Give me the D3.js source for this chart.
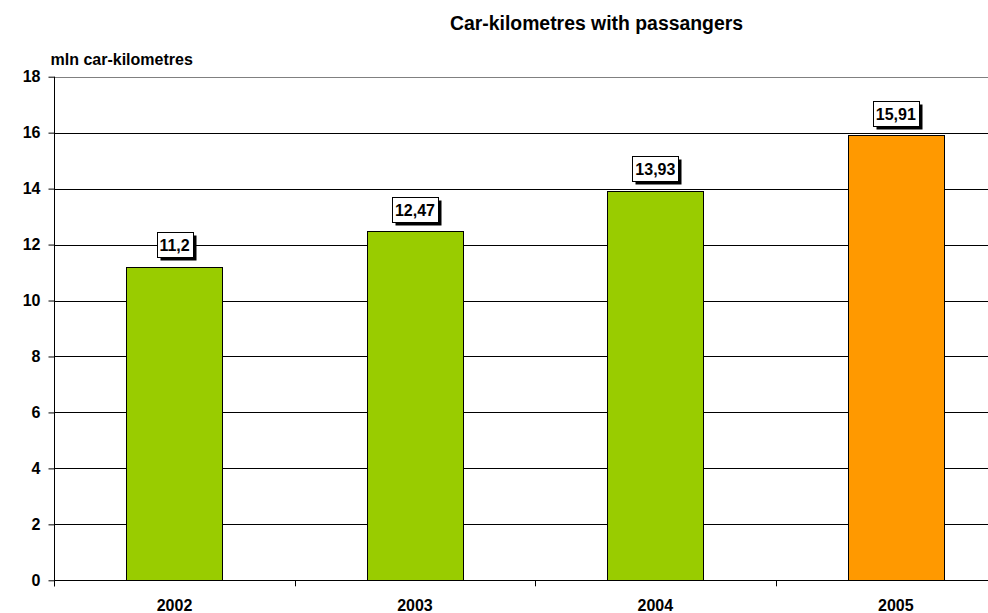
<!DOCTYPE html>
<html>
<head>
<meta charset="utf-8">
<script src="https://cdn.jsdelivr.net/npm/d3@7"></script>
<style>
  html, body { margin: 0; padding: 0; background: #fff; }
  svg { display: block; overflow: hidden; }
  text { font-family: "Liberation Sans", Arial, sans-serif; font-weight: bold; fill: #000; }
</style>
</head>
<body>
<script>
// Car-kilometres with passengers, million, by year
const years = ["2002", "2003", "2004", "2005"];
const values = [11.2, 12.47, 13.93, 15.91];
const valueLabels = ["11,2", "12,47", "13,93", "15,91"];
const barColors = ["#99CC00", "#99CC00", "#99CC00", "#FF9900"];
const yTicks = [0, 2, 4, 6, 8, 10, 12, 14, 16, 18];

const W = 988, H = 613;
const plot = { left: 54.3, right: 1016, top: 76.7, bottom: 580.3 };

const svg = d3.select("body").append("svg")
  .attr("width", W).attr("height", H);

const x = d3.scaleBand().domain(years)
  .range([plot.left, plot.right])
  .paddingInner(0.6).paddingOuter(0.3);
const xCat = d3.scaleBand().domain(years).range([plot.left, plot.right]);
const y = d3.scaleLinear().domain([0, 18]).range([plot.bottom, plot.top]);

// title
svg.append("text")
  .attr("x", 596.5).attr("y", 30)
  .attr("text-anchor", "middle")
  .style("font-size", "19.4px")
  .text("Car-kilometres with passangers");

// unit label
svg.append("text")
  .attr("x", 50.5).attr("y", 65)
  .style("font-size", "16px")
  .text("mln car-kilometres");

// horizontal gridlines (top one is the plot frame, drawn gray)
svg.append("g").selectAll("line").data(yTicks).join("line")
  .attr("x1", plot.left).attr("x2", plot.right)
  .attr("y1", d => Math.round(y(d)) + 0.5).attr("y2", d => Math.round(y(d)) + 0.5)
  .attr("stroke", d => d === 18 ? "#808080" : "#000")
  .attr("stroke-width", 1);

// y axis
const yAxis = d3.axisLeft(y).tickValues(yTicks).tickSize(6).tickPadding(8).tickFormat(d3.format("d"));
const gy = svg.append("g").attr("transform", `translate(${Math.round(plot.left) + 0.5},0)`).call(yAxis);
gy.select(".domain").remove();
gy.selectAll(".tick line").attr("stroke", "#000");
gy.selectAll(".tick text").style("font-size", "16px").style("font-family", "'Liberation Sans', Arial, sans-serif").style("font-weight", "bold");
svg.append("line")
  .attr("x1", Math.round(plot.left) + 0.5).attr("x2", Math.round(plot.left) + 0.5)
  .attr("y1", plot.top).attr("y2", plot.bottom + 6)
  .attr("stroke", "#000");

// x axis category boundary ticks
const bounds = years.map(d => xCat(d)).concat([plot.right]);
svg.append("g").selectAll("line").data(bounds).join("line")
  .attr("x1", d => Math.round(d) + 0.5).attr("x2", d => Math.round(d) + 0.5)
  .attr("y1", Math.round(plot.bottom)).attr("y2", plot.bottom + 6)
  .attr("stroke", "#000");

svg.append("g").selectAll("text").data(years).join("text")
  .attr("x", d => x(d) + x.bandwidth() / 2)
  .attr("y", 611)
  .attr("text-anchor", "middle")
  .style("font-size", "16px")
  .text(d => d);

// bars
svg.append("g").selectAll("rect").data(years).join("rect")
  .attr("x", d => Math.round(x(d)) + 0.5)
  .attr("y", (d, i) => Math.round(y(values[i])) + 0.5)
  .attr("width", Math.round(x.bandwidth()))
  .attr("height", (d, i) => Math.round(y(0)) - Math.round(y(values[i])))
  .attr("fill", (d, i) => barColors[i])
  .attr("stroke", "#000").attr("stroke-width", 1);

// value labels in framed boxes with a drop shadow
const lbl = svg.append("g").selectAll("g").data(years).join("g");
lbl.each(function (d, i) {
  const g = d3.select(this);
  const cx = x(d) + x.bandwidth() / 2;
  const t = g.append("text")
    .attr("text-anchor", "middle")
    .style("font-size", "16px")
    .text(valueLabels[i]);
  const tw = t.node().getComputedTextLength();
  const bw = Math.round(tw + 6), bh = 25;
  const bx = Math.round(cx - bw / 2) + 0.5;
  const by = Math.round(y(values[i]) - 9.5 - bh) + 0.5;
  g.insert("rect", "text")
    .attr("x", bx + 3).attr("y", by + 3).attr("width", bw).attr("height", bh)
    .attr("fill", "#000");
  g.insert("rect", "text")
    .attr("x", bx).attr("y", by).attr("width", bw).attr("height", bh)
    .attr("fill", "#fff").attr("stroke", "#000").attr("stroke-width", 1);
  t.attr("x", cx).attr("y", by + bh / 2 + 6);
});
</script>
</body>
</html>
